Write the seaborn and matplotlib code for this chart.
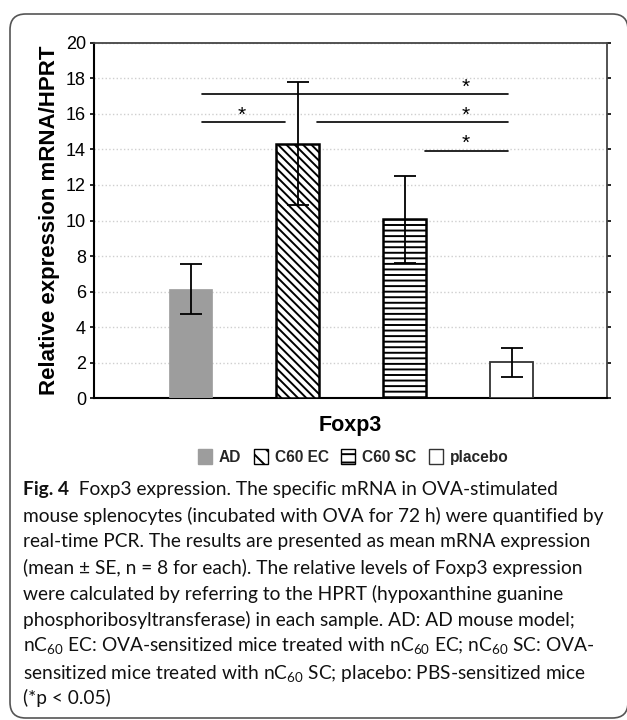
import numpy as np
import pandas as pd
import matplotlib
matplotlib.use("Agg")
import matplotlib.pyplot as plt
import seaborn as sns
from matplotlib.patches import Patch, FancyBboxPatch

# data
groups = ['AD', 'C60 EC', 'C60 SC', 'placebo']
means = [6.15, 14.33, 10.06, 2.02]
se = [1.42, 3.44, 2.46, 0.80]

# significance brackets (x in category units, y in data units)
sig_y = [17.11, 15.52, 15.52, 13.93]
sig_x0 = [0.103, 0.103, 1.178, 2.19]
sig_x1 = [2.968, 0.881, 2.968, 2.968]
star_x = [2.57, 0.48, 2.57, 2.57]

caption = [
    "mouse splenocytes (incubated with OVA for 72 h) were quantified by",
    "real-time PCR. The results are presented as mean mRNA expression",
    "(mean \u00b1 SE, n = 8 for each). The relative levels of Foxp3 expression",
    "were calculated by referring to the HPRT (hypoxanthine guanine",
    "phosphoribosyltransferase) in each sample. AD: AD mouse model;",
    r"n$\mathrm{C_{60}}$ EC: OVA-sensitized mice treated with n$\mathrm{C_{60}}$ EC; n$\mathrm{C_{60}}$ SC: OVA-",
    r"sensitized mice treated with n$\mathrm{C_{60}}$ SC; placebo: PBS-sensitized mice",
    "(*p < 0.05)",
]

df = pd.DataFrame({'group': groups, 'mean': means, 'se': se})

sns.set_theme(style="white")
plt.rcParams['font.family'] = ['Liberation Sans', 'DejaVu Sans']
plt.rcParams['hatch.linewidth'] = 1.4
plt.rcParams['mathtext.fontset'] = 'custom'
plt.rcParams['mathtext.rm'] = 'Lato'

fig = plt.figure(figsize=(6.27, 7.2), dpi=100)
ax = fig.add_axes([0.1504, 0.4468, 0.8177, 0.4939])

sns.barplot(data=df, x='group', y='mean', ax=ax, width=0.405,
            errorbar=None, color='white', saturation=1)

styles = [
    dict(fc='#9d9d9d', ec='#9d9d9d', hatch=None, lw=0.5),
    dict(fc='white', ec='black', hatch='\\\\\\\\', lw=1.8),
    dict(fc='white', ec='black', hatch='---', lw=1.8),
    dict(fc='white', ec='#333333', hatch=None, lw=1.3),
]
for p, s in zip(ax.patches, styles):
    p.set_facecolor(s['fc'])
    p.set_edgecolor(s['ec'])
    p.set_linewidth(s['lw'])
    if s['hatch']:
        p.set_hatch(s['hatch'])
    p.set_zorder(3)

ax.errorbar(x=np.arange(len(groups)), y=df['mean'], yerr=df['se'], fmt='none',
            ecolor='black', elinewidth=1.3, capsize=8, capthick=1.3, zorder=4)

for y, x0, x1, sx in zip(sig_y, sig_x0, sig_x1, star_x):
    ax.plot([x0, x1], [y, y], color='black', lw=1.2, zorder=4)
    ax.text(sx, y + 0.40, '*', ha='center', va='center', fontsize=15, color='black')

ax.set_xlim(-0.90, 3.89)
ax.set_ylim(0, 20)
ax.set_yticks(np.arange(0, 21, 2))
ax.yaxis.grid(True, color='#cfcfcf', linestyle=':', linewidth=1.0, zorder=0)
ax.set_axisbelow(True)
ax.set_xticks([])
ax.tick_params(axis='y', left=True, right=True, direction='out', length=3,
               width=1.2, labelsize=13, pad=3, colors='black')
for sp in ['left', 'bottom']:
    ax.spines[sp].set_color('black')
    ax.spines[sp].set_linewidth(1.5)
for sp in ['top', 'right']:
    ax.spines[sp].set_color('#444444')
    ax.spines[sp].set_linewidth(1.3)
ax.set_ylabel('Relative expression mRNA/HPRT', fontsize=16, fontweight='bold',
              color='black', labelpad=4)
ax.set_xlabel('Foxp3', fontsize=15.5, fontweight='bold', color='black', labelpad=12)

handles = [Patch(facecolor=s['fc'], edgecolor=s['ec'] if s['hatch'] or i == 3 else s['fc'],
                 hatch=s['hatch'], linewidth=1.0, label=g)
           for i, (g, s) in enumerate(zip(groups, styles))]
handles[1].set_hatch('\\\\')
handles[2].set_hatch('--')
leg = ax.legend(handles=handles, loc='center', bbox_to_anchor=(0.505, -0.165), ncol=4,
                frameon=False, prop={'weight': 'bold', 'size': 11.2},
                handlelength=0.9, handleheight=1.15, handletextpad=0.45,
                columnspacing=0.8, borderaxespad=0)

# caption
cap_font = ['Lato', 'DejaVu Sans']
cap_size = 13.8
t0 = fig.text(23 / 627, 1 - 489 / 720, 'Fig. 4', fontsize=cap_size, fontweight='bold',
              family=cap_font, va='center', ha='left', color='#111111')
ax.annotate('  Foxp3 expression. The specific mRNA in OVA-stimulated', xy=(1, 0.5),
            xycoords=t0, va='center', ha='left', fontsize=cap_size, family=cap_font,
            color='#111111', annotation_clip=False)
line_y = [516, 542, 568, 594, 620, 646, 673, 698]
for yy, line in zip(line_y, caption):
    fig.text(23 / 627, 1 - yy / 720, line, fontsize=cap_size, family=cap_font,
             va='center', ha='left', color='#111111')

# rounded frame around the figure
frame = FancyBboxPatch((10 / 627, 2 / 720), 618 / 627, 704 / 720,
                       boxstyle='round,pad=0,rounding_size=0.025',
                       transform=fig.transFigure, fill=False,
                       edgecolor='#555555', linewidth=1.2, mutation_aspect=627 / 720)
fig.patches.append(frame)

fig.savefig('out.png', dpi=100)
